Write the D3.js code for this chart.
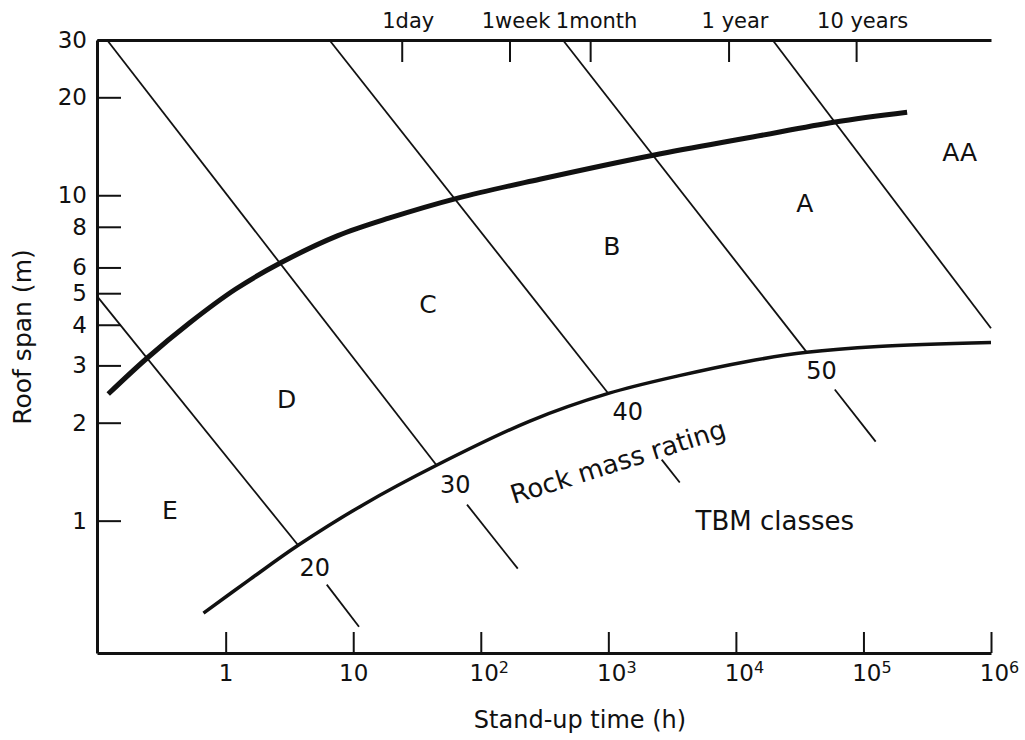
<!DOCTYPE html>
<html>
<head>
<meta charset="utf-8">
<script src="https://cdn.jsdelivr.net/npm/d3@7"></script>
<style>
  html, body { margin: 0; padding: 0; background: #ffffff; }
  svg text { font-family: "DejaVu Sans", sans-serif; fill: #111; }
</style>
</head>
<body>
<div id="chart"></div>
<script>
// stand-up time vs roof span
var upperTime = [0.12, 0.24, 0.52, 1.2, 2.7, 7.5, 19, 66, 290, 2300, 13500, 60000, 220000];
var upperSpan = [2.45, 3.15, 4.05, 5.15, 6.2, 7.5, 8.5, 9.8, 11.2, 13.3, 15.1, 16.8, 18.0];

var lowerTime = [0.67, 1.55, 3.7, 12, 45, 240, 1000, 3600, 12000, 36000, 130000, 1000000];
var lowerSpan = [0.52, 0.66, 0.84, 1.12, 1.48, 2.02, 2.46, 2.79, 3.08, 3.29, 3.43, 3.53];

// rock mass rating lines (straight in log-log)
var rmrValues   = [20, 30, 40, 50, 60];
var rmrFromTime = [0.098, 0.1175, 6.5, 440, 19400];
var rmrFromSpan = [4.9, 30, 30, 30, 30];
var rmrToTime   = [3.7, 45, 1000, 36000, 1000000];
var rmrToSpan   = [0.84, 1.48, 2.46, 3.29, 3.9];

// short continuation dashes below the rating numbers
var stubFromTime = [6.2, 78, 2620, 59600];
var stubFromSpan = [0.636, 1.12, 1.54, 2.53];
var stubToTime   = [11.1, 195, 3630, 124700];
var stubToSpan   = [0.472, 0.712, 1.31, 1.75];
var rmrLabelTime = [5.0, 63, 1420, 47000];
var rmrLabelSpan = [0.717, 1.29, 2.165, 2.89];

var classNames = ['AA', 'A', 'B', 'C', 'D', 'E'];
var classTime  = [569000, 34700, 1064, 38.5, 3.0, 0.366];
var classSpan  = [13.6, 9.5, 6.97, 4.62, 2.36, 1.08];

var xTickValues   = [1, 10, 100, 1000, 10000, 100000, 1000000];
var yTickValues   = [1, 2, 3, 4, 5, 6, 8, 10, 20, 30];
var topTickValues = [24, 168, 720, 8760, 87600];
var topTickLabels = ['1day', '1week', '1month', '1 year', '10 years'];

(function () {
  var W = 1025, H = 740;
  var INK = '#111';

  var svg = d3.select('#chart')
    .append('svg')
    .attr('width', W)
    .attr('height', H)
    .style('background', '#ffffff');

  var x = d3.scaleLog().domain([0.098, 1e6]).range([97, 991]);
  var y = d3.scaleLog().domain([0.392, 30]).range([653, 40]);

  function zipPts(ts, ss) {
    return ts.map(function (t, i) { return [x(t), y(ss[i])]; });
  }

  // axes
  var bottom = svg.append('g')
    .attr('transform', 'translate(0,' + y.range()[0] + ')')
    .call(d3.axisBottom(x).tickValues(xTickValues).tickSize(-21).tickSizeOuter(0).tickPadding(12));

  bottom.selectAll('.tick text').each(function (d) {
    var t = d3.select(this).text('').attr('font-size', 23).attr('dx', d >= 100 ? 8 : 0);
    if (d < 100) {
      t.text(String(d));
    } else {
      t.append('tspan').text('10');
      t.append('tspan').attr('font-size', 16).attr('dy', '-0.55em').text(String(Math.round(Math.log10(d))));
    }
  });

  var left = svg.append('g')
    .attr('transform', 'translate(' + x.range()[0] + ',0)')
    .call(d3.axisLeft(y).tickValues(yTickValues).tickSize(-24).tickSizeOuter(0).tickPadding(10)
      .tickFormat(function (d) { return String(d); }));
  left.selectAll('.tick text').attr('font-size', 23);

  var top = svg.append('g')
    .attr('transform', 'translate(0,' + y.range()[1] + ')')
    .call(d3.axisTop(x).tickValues(topTickValues).tickSize(-22).tickSizeOuter(0).tickPadding(12)
      .tickFormat(function (d, i) { return topTickLabels[i]; }));
  top.selectAll('.tick text').attr('font-size', 21).attr('dx', 6);

  [bottom, left, top].forEach(function (g) {
    g.select('.domain').attr('stroke', INK).attr('stroke-width', 3);
    g.selectAll('.tick line').attr('stroke', INK).attr('stroke-width', 2);
    g.selectAll('.tick text').attr('fill', INK).style('font-family', '"DejaVu Sans", sans-serif');
  });

  // boundary curves
  var curve = d3.line().curve(d3.curveCatmullRom.alpha(0.5));

  svg.append('path')
    .attr('d', curve(zipPts(upperTime, upperSpan)))
    .attr('fill', 'none')
    .attr('stroke', INK)
    .attr('stroke-width', 5);

  svg.append('path')
    .attr('d', curve(zipPts(lowerTime, lowerSpan)))
    .attr('fill', 'none')
    .attr('stroke', INK)
    .attr('stroke-width', 3.5);

  // rating lines
  var seg = d3.line();
  svg.append('g')
    .selectAll('path')
    .data(rmrValues)
    .join('path')
    .attr('d', function (d, i) {
      return seg([[x(rmrFromTime[i]), y(rmrFromSpan[i])], [x(rmrToTime[i]), y(rmrToSpan[i])]]);
    })
    .attr('fill', 'none')
    .attr('stroke', INK)
    .attr('stroke-width', 1.8);

  svg.append('g')
    .selectAll('path')
    .data(stubFromTime)
    .join('path')
    .attr('d', function (d, i) {
      return seg([[x(stubFromTime[i]), y(stubFromSpan[i])], [x(stubToTime[i]), y(stubToSpan[i])]]);
    })
    .attr('fill', 'none')
    .attr('stroke', INK)
    .attr('stroke-width', 1.8);

  svg.append('g')
    .selectAll('text')
    .data(rmrLabelTime)
    .join('text')
    .attr('x', function (d) { return x(d); })
    .attr('y', function (d, i) { return y(rmrLabelSpan[i]); })
    .attr('dy', '0.36em')
    .attr('text-anchor', 'middle')
    .attr('font-size', 24)
    .text(function (d, i) { return rmrValues[i]; });

  // class letters
  svg.append('g')
    .selectAll('text')
    .data(classNames)
    .join('text')
    .attr('x', function (d, i) { return x(classTime[i]); })
    .attr('y', function (d, i) { return y(classSpan[i]); })
    .attr('dy', '0.36em')
    .attr('text-anchor', 'middle')
    .attr('font-size', 25)
    .text(function (d) { return d; });

  svg.append('text')
    .attr('transform', 'translate(' + x(1186) + ',' + y(1.52) + ') rotate(-17.5)')
    .attr('dy', '0.36em')
    .attr('text-anchor', 'middle')
    .attr('font-size', 26)
    .text('Rock mass rating');

  svg.append('text')
    .attr('x', x(20200))
    .attr('y', y(1.0))
    .attr('dy', '0.36em')
    .attr('text-anchor', 'middle')
    .attr('font-size', 26)
    .text('TBM classes');

  // axis titles
  svg.append('text')
    .attr('x', 580)
    .attr('y', 728)
    .attr('text-anchor', 'middle')
    .attr('font-size', 24)
    .text('Stand-up time (h)');

  svg.append('text')
    .attr('transform', 'translate(31,337) rotate(-90)')
    .attr('text-anchor', 'middle')
    .attr('font-size', 25)
    .text('Roof span (m)');
})();
</script>
</body>
</html>
